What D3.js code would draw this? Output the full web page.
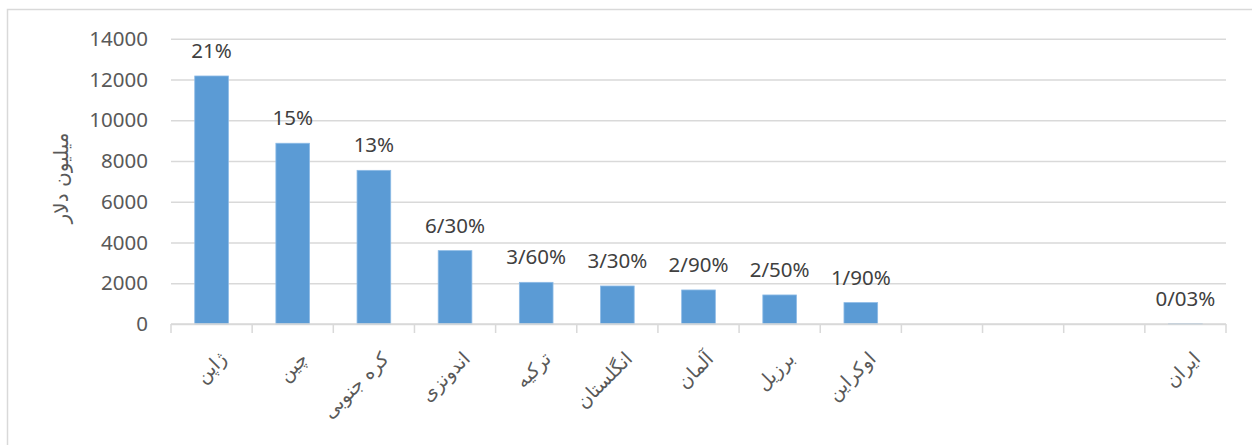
<!DOCTYPE html>
<html>
<head>
<meta charset="utf-8">
<script src="https://cdn.jsdelivr.net/npm/d3@7"></script>
<style>
  html, body { margin: 0; padding: 0; background: #fff; }
  svg { display: block; }
</style>
</head>
<body>
<svg id="chart" width="1252" height="445"></svg>
<script>
// categories (blank slots kept as in the source chart)
var countries = ['ژاپن', 'چین', 'کره جنوبی', 'اندونزی', 'ترکیه', 'انگلستان', 'آلمان', 'برزیل', 'اوکراین', '', '', '', 'ایران'];
var values = [12170, 8870, 7540, 3600, 2045, 1865, 1670, 1425, 1050, null, null, null, 17];
var shares = ['21%', '15%', '13%', '6/30%', '3/60%', '3/30%', '2/90%', '2/50%', '1/90%', '', '', '', '0/03%'];
var yTicks = [0, 2000, 4000, 6000, 8000, 10000, 12000, 14000];
var yTitle = 'میلیون دلار';

var svg = d3.select('#chart');
var plotLeft = 171, plotRight = 1226, plotTop = 38.7, plotBottom = 324;
var textColor = '#595959', gridColor = '#D9D9D9', barColor = '#5B9BD5';

var rows = countries.map(function(c, i) {
  return { key: i, name: c, value: values[i], label: shares[i] };
});

// chart frame (only top and left edges are visible in the crop)
svg.append('path')
  .attr('d', 'M7.5,1300 V9.5 H1300')
  .attr('fill', 'none')
  .attr('stroke', gridColor)
  .attr('stroke-width', 1.5);

var x = d3.scaleBand()
  .domain(rows.map(function(d) { return d.key; }))
  .range([plotLeft, plotRight])
  .padding(0);

var y = d3.scaleLinear()
  .domain([0, 14000])
  .range([plotBottom, plotTop]);

// gridlines + y labels
var yAxis = svg.append('g')
  .attr('transform', 'translate(' + plotLeft + ',0)')
  .call(d3.axisLeft(y).tickValues(yTicks).tickSize(-(plotRight - plotLeft)).tickPadding(23).tickFormat(d3.format('d')));
yAxis.select('.domain').remove();
yAxis.selectAll('.tick line').attr('stroke', gridColor).attr('stroke-width', 1.5);
yAxis.selectAll('.tick text')
  .attr('fill', textColor)
  .style('font-family', '"Noto Sans", "Open Sans", sans-serif')
  .style('font-size', '20.5px');

// bars
var barW = x.step() * 0.415;
svg.append('g').selectAll('rect')
  .data(rows.filter(function(d) { return d.value != null; }))
  .join('rect')
  .attr('x', function(d) { return x(d.key) + (x.step() - barW) / 2; })
  .attr('y', function(d) { return y(d.value); })
  .attr('width', barW)
  .attr('height', function(d) { return plotBottom - y(d.value); })
  .attr('fill', barColor)
  .attr('stroke', '#8DBBE6')
  .attr('stroke-width', 0.8);

// x axis line with tick marks between categories
var xAxis = svg.append('g')
  .attr('transform', 'translate(0,' + plotBottom + ')');
xAxis.append('line')
  .attr('x1', plotLeft).attr('x2', plotRight)
  .attr('stroke', gridColor).attr('stroke-width', 1.5);
xAxis.selectAll('line.tk')
  .data(rows.map(function(d) { return x(d.key); }).concat([plotRight]))
  .join('line')
  .attr('class', 'tk')
  .attr('x1', function(d) { return d; }).attr('x2', function(d) { return d; })
  .attr('y1', 0).attr('y2', 9)
  .attr('stroke', gridColor).attr('stroke-width', 1.5);

// rotated category names
svg.append('g').selectAll('text')
  .data(rows)
  .join('text')
  .attr('transform', function(d) {
    return 'translate(' + (x(d.key) + x.step() / 2 + 6) + ',' + 350 + ') rotate(-45)';
  })
  .attr('text-anchor', 'end')
  .attr('dy', '0.75em')
  .attr('fill', textColor)
  .style('font-family', '"DejaVu Sans", sans-serif')
  .style('font-size', '19px')
  .text(function(d) { return d.name; });

// value labels
svg.append('g').selectAll('text')
  .data(rows.filter(function(d) { return d.value != null; }))
  .join('text')
  .attr('x', function(d) { return x(d.key) + x.step() / 2; })
  .attr('y', function(d) { return y(d.value) - 18; })
  .attr('text-anchor', 'middle')
  .attr('fill', '#404040')
  .style('font-family', '"Noto Sans", "Open Sans", sans-serif')
  .style('font-size', '20.5px')
  .text(function(d) { return d.label; });

// y axis title
svg.append('text')
  .attr('transform', 'translate(61,178) rotate(-90)')
  .attr('text-anchor', 'middle')
  .attr('dy', '0.35em')
  .attr('fill', textColor)
  .style('font-family', '"DejaVu Sans", sans-serif')
  .style('font-size', '20px')
  .text(yTitle);
</script>
</body>
</html>
